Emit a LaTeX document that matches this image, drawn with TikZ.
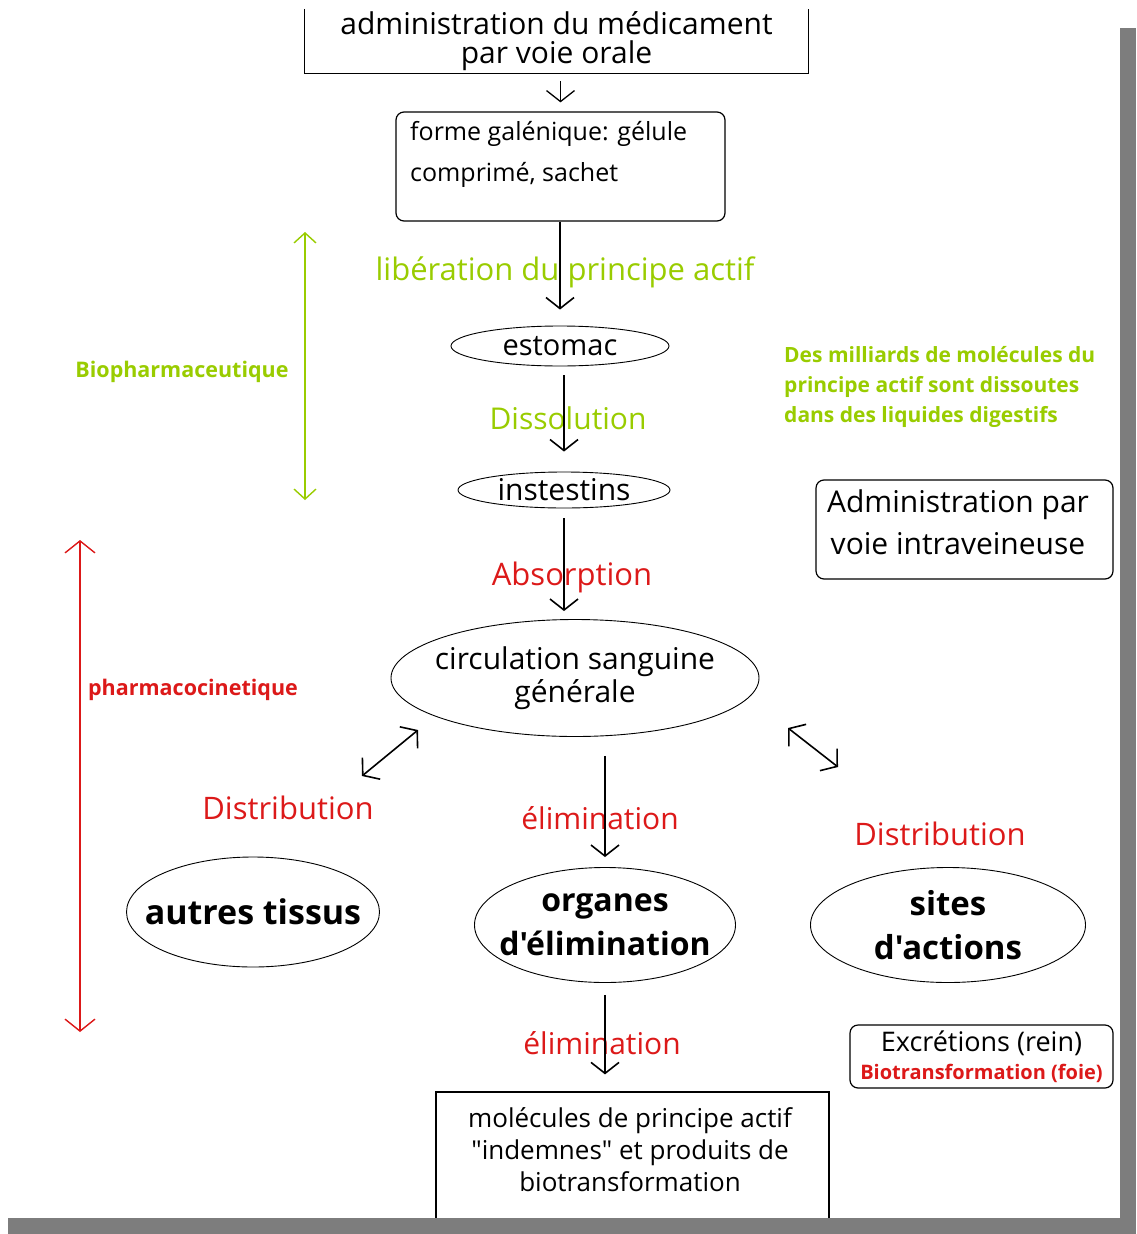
\documentclass[tikz,border=0pt]{standalone}
\usepackage{fontspec}
\setmainfont{Open Sans}[Ligatures=TeXOff]
\usepackage{tikz}
\usetikzlibrary{arrows.meta,shapes.geometric}

\definecolor{vert}{RGB}{153,204,0}
\definecolor{rouge}{RGB}{220,25,25}
\definecolor{ombre}{RGB}{125,125,125}

\begin{document}
\begin{tikzpicture}[x=1pt, y=-1pt,
    txt/.style={font=\fontsize{29}{33}\selectfont, align=center, inner sep=0pt},
    gras/.style={txt, font=\fontsize{33}{44}\selectfont\bfseries},
    etape/.style={txt, font=\fontsize{30}{34}\selectfont},
    ell/.style={ellipse, draw, line width=0.9pt, inner sep=0pt},
    boite/.style={draw, line width=1.2pt, rounded corners=8pt, inner sep=0pt},
    arrow/.style={-{Straight Barb[length=11pt,width=28pt]}, line width=1.6pt},
    darrow/.style={{Straight Barb[length=11pt,width=28pt]}-{Straight Barb[length=11pt,width=28pt]}, line width=1.6pt}
]
\useasboundingbox (0,0) rectangle (1136,1234);
%% ============================================================
%% FIRST PART: voie orale -> estomac -> instestins
%% ============================================================
\node[txt, minimum width=503, minimum height=64, font=\fontsize{30}{29}\selectfont] (oral) at (556.5,41)
    {administration du médicament\\par voie orale};
\draw[line width=1.2pt] (oral.north west) -- (oral.south west) -- (oral.south east) -- (oral.north east);
\node[boite, minimum width=329, minimum height=109] (forme) at (560.5,166.5) {};
\node[txt, anchor=west, align=left, font=\fontsize{25}{41}\selectfont] (formetxt) at (410,154)
    {forme galénique: gélule\\comprimé, sachet};
\draw[arrow, line width=1.3pt, shorten <=8pt, shorten >=9pt] (oral.south -| forme.north) -- (forme.north);
\node[ell, minimum width=218, minimum height=40] (estomac) at (560,346) {};
\node[txt] at (estomac) {estomac};
\node[etape, text=vert, font=\fontsize{31}{34}\selectfont] (liberation) at (565,272) {libération du principe actif};
\draw[arrow, shorten >=16pt] (forme.south -| estomac.north) -- (estomac.north);
\node[ell, minimum width=212, minimum height=36] (instestins) at (564,490) {};
\node[txt, font=\fontsize{30}{33}\selectfont] at (instestins) {instestins};
\node[etape, text=vert] (dissolution) at (568,418) {Dissolution};
\draw[arrow, shorten <=9pt, shorten >=20pt] (estomac.south -| instestins.north) -- (instestins.north);
%% ============================================================
%% SECOND PART: circulation sanguine generale + organes
%% ============================================================
\node[ell, minimum width=368, minimum height=117] (circ) at (575,678) {};
\node[txt, font=\fontsize{30}{33}\selectfont] at (circ) {circulation sanguine\\générale};
\node[etape, text=rouge, font=\fontsize{31}{34}\selectfont] (absorption) at (572,577) {Absorption};
\draw[arrow, shorten <=10pt, shorten >=8pt] (instestins.south) -- (instestins.south |- circ.north);
\node[ell, minimum width=253, minimum height=110] (tissus) at (253,912) {};
\node[gras, font=\fontsize{34}{44}\selectfont\bfseries] at (tissus) {autres tissus};
\node[ell, minimum width=261, minimum height=115] (organes) at (605,925) {};
\node[gras, font=\fontsize{32}{44}\selectfont\bfseries] at (organes) {organes\\d'élimination};
\node[ell, minimum width=275, minimum height=115] (sites) at (948,925) {};
\node[gras] at (sites) {sites\\d'actions};
\node[etape, text=rouge, font=\fontsize{31}{34}\selectfont] (distrib1) at (288,808) {Distribution};
\node[etape, text=rouge, font=\fontsize{31}{34}\selectfont] (distrib2) at (940,834) {Distribution};
\node[etape, text=rouge] (elim1) at (600,818) {élimination};
\coordinate (dg1) at (418,730);
\coordinate (dg2) at (362,776);
\coordinate (dd1) at (788,728);
\coordinate (dd2) at (838,767);
\draw[darrow] (dg1) -- (dg2);
\draw[darrow] (dd1) -- (dd2);
\draw[arrow, shorten <=19pt, shorten >=10pt] (circ.south -| organes.north) -- (organes.north);
%% ============================================================
%% THIRD PART: elimination + boxes on the right
%% ============================================================
\node[draw, line width=1.2pt, minimum width=393, minimum height=132] (molecules) at (632.5,1158) {};
\node[txt, font=\fontsize{26}{32}\selectfont] at (630,1150)
    {molécules de principe actif\\"indemnes" et produits de\\biotransformation};
\node[etape, text=rouge] (elim2) at (602,1043) {élimination};
\draw[arrow, shorten <=12pt, shorten >=17pt] (organes.south) -- (organes.south |- molecules.north);
\node[boite, minimum width=263, minimum height=63] (excretions) at (981.5,1056.5) {};
\node[txt, align=center] at (excretions) {{\fontsize{27}{27}\selectfont Excrétions (rein)}\\[-5pt]
    {\fontsize{20}{22}\selectfont\bfseries\color{rouge}Biotransformation (foie)}};
\node[boite, minimum width=297, minimum height=99] (iv) at (964.5,529.5) {};
\node[txt, font=\fontsize{30}{42}\selectfont] at (958,522) {Administration par\\voie intraveineuse};
\node[txt, anchor=west, align=left, text=vert, font=\fontsize{21}{30}\selectfont\bfseries] (milliards) at (784,387)
    {Des milliards de molécules du\\principe actif sont dissoutes\\dans des liquides digestifs};
%% ============================================================
%% Side arrows
%% ============================================================
\coordinate (bio1) at (305,232);
\coordinate (bio2) at (305,500);
\draw[{Straight Barb[length=10pt,width=22pt]}-{Straight Barb[length=10pt,width=22pt]}, vert, line width=1.4pt] (bio1) -- (bio2);
\node[txt, text=vert, font=\fontsize{21.5}{24}\selectfont\bfseries] (bio) at (182,372) {Biopharmaceutique};
\coordinate (pk1) at (80,540);
\coordinate (pk2) at (80,1032);
\draw[{Straight Barb[length=12pt,width=30pt]}-{Straight Barb[length=12pt,width=30pt]}, rouge, line width=1.4pt] (pk1) -- (pk2);
\node[txt, text=rouge, font=\fontsize{21.5}{24}\selectfont\bfseries] (pk) at (193,690) {pharmacocinetique};
%% shadow
\fill[ombre] (1120,28) rectangle (1136,1234);
\fill[ombre] (8,1218) rectangle (1136,1234);
\end{tikzpicture}
\end{document}
